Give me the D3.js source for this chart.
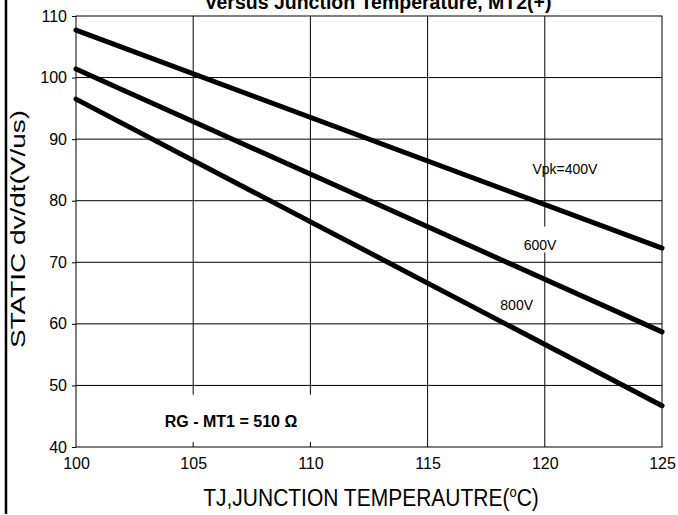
<!DOCTYPE html>
<html>
<head>
<meta charset="utf-8">
<script src="https://cdn.jsdelivr.net/npm/d3@7"></script>
<style>
  html, body { margin: 0; padding: 0; background: #fff; }
  svg { display: block; font-family: "Liberation Sans", Arial, sans-serif; }
</style>
</head>
<body>
<svg id="chart" width="678" height="515"></svg>
<script>
// Static dv/dt vs junction temperature, one straight line per peak voltage
const temps = [100, 125];
const vpk400 = [107.7, 72.3];
const vpk600 = [101.4, 58.7];
const vpk800 = [96.5, 46.7];
const seriesNames = ["Vpk=400V", "600V", "800V"];
const xTicks = [100, 105, 110, 115, 120, 125];
const yTicks = [40, 50, 60, 70, 80, 90, 100, 110];
const titleText = "Versus Junction Temperature, MT2(+)";
const xTitle = "TJ,JUNCTION TEMPERAUTRE(";
const yTitle = "STATIC dv/dt(V/us)";
const noteText = "RG - MT1 = 510 \u03A9";

const svg = d3.select("#chart");
const plotLeft = 76, plotRight = 662, plotTop = 16, plotBottom = 447;

const x = d3.scaleLinear().domain([100, 125]).range([plotLeft, plotRight]);
const y = d3.scaleLinear().domain([40, 110]).range([plotBottom, plotTop]);

// outer left rule
svg.append("line")
  .attr("x1", 6).attr("x2", 6).attr("y1", 0).attr("y2", 514)
  .attr("stroke", "#000").attr("stroke-width", 2.5);

// gridlines
const grid = svg.append("g").attr("stroke", "#000").attr("stroke-width", 1);
grid.selectAll(".vg").data(xTicks.slice(1, -1)).join("line")
  .attr("x1", d => x(d)).attr("x2", d => x(d))
  .attr("y1", plotTop).attr("y2", plotBottom);
grid.selectAll(".hg").data(yTicks.slice(1, -1)).join("line")
  .attr("x1", plotLeft).attr("x2", plotRight)
  .attr("y1", d => y(d)).attr("y2", d => y(d));

// plot frame
svg.append("rect")
  .attr("x", plotLeft).attr("y", plotTop)
  .attr("width", plotRight - plotLeft).attr("height", plotBottom - plotTop)
  .attr("fill", "none").attr("stroke", "#000").attr("stroke-width", 1);

// y axis with short outer ticks
const yAxis = svg.append("g")
  .attr("transform", `translate(${plotLeft},0)`)
  .call(d3.axisLeft(y).tickValues(yTicks).tickSize(4).tickPadding(5).tickFormat(d3.format("d")));
yAxis.select(".domain").remove();
yAxis.selectAll("text").attr("font-size", 16).attr("fill", "#000")
  .attr("font-family", "Liberation Sans, Arial, sans-serif");

// x axis labels below the frame
const xAxis = svg.append("g")
  .attr("transform", `translate(0,${plotBottom})`)
  .call(d3.axisBottom(x).tickValues(xTicks).tickSize(0).tickPadding(11).tickFormat(d3.format("d")));
xAxis.select(".domain").remove();
xAxis.selectAll("text").attr("font-size", 16).attr("fill", "#000")
  .attr("font-family", "Liberation Sans, Arial, sans-serif");

// label backgrounds (they mask the grid)
const boxes = [
  { x0: 120.3, x1: 123.5, y0: 87.6, y1: 84.2 },
  { x0: 119.0, x1: 120.9, y0: 75.8, y1: 71.6 },
  { x0: 117.9, x1: 119.8, y0: 65.5, y1: 62.6 },
  { x0: 102.5, x1: 110.5, y0: 48.5, y1: 40.8 }
];
svg.selectAll(".box").data(boxes).join("rect")
  .attr("x", d => x(d.x0)).attr("y", d => y(d.y0))
  .attr("width", d => x(d.x1) - x(d.x0)).attr("height", d => y(d.y1) - y(d.y0))
  .attr("fill", "#fff");

// the three characteristic lines
const series = [vpk400, vpk600, vpk800];
const line = d3.line().x((d, i) => x(temps[i])).y(d => y(d));
svg.selectAll(".series").data(series).join("path")
  .attr("d", d => line(d))
  .attr("fill", "none").attr("stroke", "#000")
  .attr("stroke-width", 5).attr("stroke-linecap", "round");

// series labels
const labelPos = [
  { t: 120.86, v: 84.3 },
  { t: 119.8, v: 72.0 },
  { t: 118.8, v: 62.2 }
];
svg.selectAll(".slabel").data(seriesNames).join("text")
  .attr("x", (d, i) => x(labelPos[i].t)).attr("y", (d, i) => y(labelPos[i].v))
  .attr("text-anchor", "middle").attr("font-size", 14).attr("fill", "#000")
  .text(d => d);

// condition note
svg.append("text")
  .attr("x", 231).attr("y", 427)
  .attr("text-anchor", "middle").attr("font-size", 16).attr("font-weight", "bold")
  .text(noteText);

// chart title (partly above the top edge)
svg.append("text")
  .attr("x", 378).attr("y", 9)
  .attr("text-anchor", "middle").attr("font-size", 19.5).attr("font-weight", "bold")
  .text(titleText);

// x axis title with degree mark
const xt = svg.append("text")
  .attr("transform", "translate(371,506) scale(1,1.15)")
  .attr("text-anchor", "middle").attr("font-size", 21);
xt.append("tspan").text(xTitle);
xt.append("tspan").attr("font-size", 13).attr("dy", -8).text("o");
xt.append("tspan").attr("dy", 8).text("C)");

// y axis title, drawn tall and narrow
svg.append("text")
  .attr("transform", `translate(25,229) rotate(-90)`)
  .attr("text-anchor", "middle").attr("font-size", 21)
  .attr("textLength", 238).attr("lengthAdjust", "spacingAndGlyphs")
  .text(yTitle);
</script>
</body>
</html>
